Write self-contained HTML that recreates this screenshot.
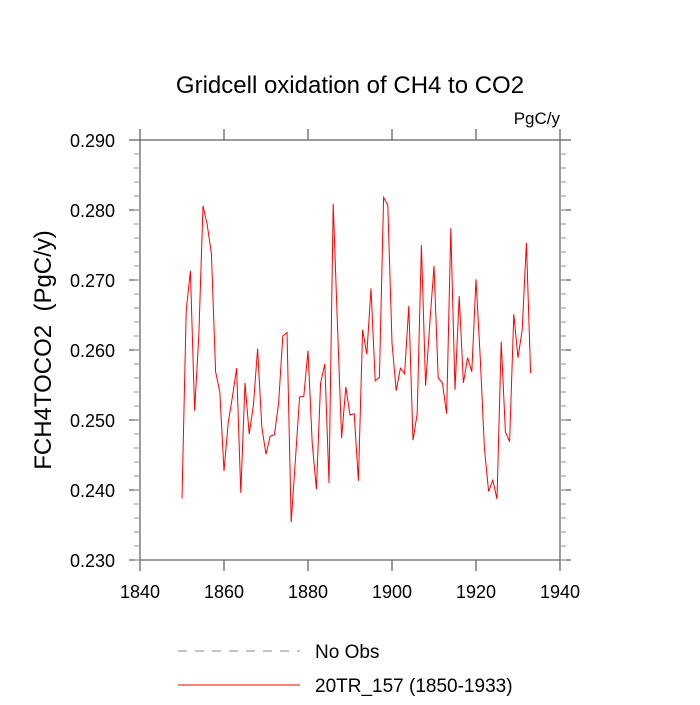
<!DOCTYPE html>
<html><head><meta charset="utf-8"><style>
body{margin:0;background:#fff}
svg text{font-family:"Liberation Sans",sans-serif;fill:#000}
</style></head><body>
<svg id="chart" width="700" height="700" xmlns="http://www.w3.org/2000/svg">
<text x="350" y="93" font-size="24" text-anchor="middle">Gridcell oxidation of CH4 to CO2</text>
<text x="560" y="124" font-size="17" text-anchor="end">PgC/y</text>
<text transform="translate(51,350) rotate(-90)" font-size="24" text-anchor="middle" style="white-space:pre">FCH4TOCO2  (PgC/y)</text>
<g id="axes"></g>
<g id="series"></g>
<line x1="178" y1="651" x2="300" y2="651" stroke="#888" stroke-width="1" stroke-dasharray="9,8"/>
<text x="315" y="658" font-size="19">No Obs</text>
<line x1="178" y1="685" x2="300" y2="685" stroke="red" stroke-width="1"/>
<text x="315" y="692" font-size="19">20TR_157 (1850-1933)</text>
</svg>
<script>
const years=[];for(let y=1850;y<=1933;y++)years.push(y);
const values=[0.2388,0.2657,0.2713,0.2513,0.2620,0.2806,0.2779,0.2738,0.2569,0.2540,
0.2427,0.2496,0.2533,0.2574,0.2396,0.2553,0.2480,0.2521,0.2602,0.2490,
0.2451,0.2477,0.2479,0.2524,0.2620,0.2625,0.2354,0.2443,0.2533,0.2534,
0.2599,0.2467,0.2401,0.2553,0.2580,0.2410,0.2809,0.2638,0.2474,0.2547,
0.2507,0.2509,0.2413,0.2629,0.2594,0.2688,0.2556,0.2561,0.2818,0.2807,
0.2610,0.2542,0.2574,0.2566,0.2663,0.2471,0.2509,0.2750,0.2549,0.2638,
0.2720,0.2560,0.2553,0.2509,0.2774,0.2543,0.2677,0.2553,0.2589,0.2569,
0.2701,0.2590,0.2460,0.2398,0.2414,0.2387,0.2612,0.2483,0.2469,0.2651,
0.2589,0.2629,0.2753,0.2567];
const xTicks=[1840,1860,1880,1900,1920,1940];
const yTicks=[0.230,0.240,0.250,0.260,0.270,0.280,0.290];
const X0=140,X1=560,Y0=140,Y1=560;
const xs=v=>X0+(v-1840)/100*(X1-X0);
const ys=v=>Y1-(v-0.230)/0.06*(Y1-Y0);
const NS="http://www.w3.org/2000/svg";
const ax=document.getElementById('axes');
function ln(x1,y1,x2,y2,name,col){const l=document.createElementNS(NS,'line');
l.setAttribute('x1',x1);l.setAttribute('y1',y1);l.setAttribute('x2',x2);l.setAttribute('y2',y2);
l.setAttribute('stroke',col||'#666');l.setAttribute('stroke-width','1.3');


ax.appendChild(l);}
function tx(x,y,s,anchor,name){const t=document.createElementNS(NS,'text');
t.setAttribute('x',x);t.setAttribute('y',y);t.setAttribute('font-size','18');t.setAttribute('text-anchor',anchor);t.textContent=s;


ax.appendChild(t);}
const fr=document.createElementNS(NS,'rect');
fr.setAttribute('x',X0);fr.setAttribute('y',Y0);fr.setAttribute('width',X1-X0);fr.setAttribute('height',Y1-Y0);
fr.setAttribute('fill','none');fr.setAttribute('stroke','#666');fr.setAttribute('stroke-width','1.3');


ax.appendChild(fr);
xTicks.forEach(v=>{const x=xs(v);ln(x,Y1,x,Y1+11,'x-tick');ln(x,Y0,x,Y0-11,'x-tick-top');tx(x,Y1+38,String(v),'middle','x-tick-label');});
yTicks.forEach(v=>{const y=ys(v);ln(X0-11,y,X0,y,'y-tick');ln(X1,y,X1+11,y,'y-tick-right');tx(X0-25,y+7,v.toFixed(3),'end','y-tick-label');});
for(let v=0.230;v<0.2899;v+=0.002){const y=ys(v);ln(X0-6,y,X0,y,'y-minor-tick','#aaa');ln(X1,y,X1+6,y,'y-minor-tick-right','#aaa');}
const pl=document.createElementNS(NS,'polyline');
pl.setAttribute('points',years.map((y,i)=>xs(y)+','+ys(values[i])).join(' '));
pl.setAttribute('fill','none');pl.setAttribute('stroke','red');pl.setAttribute('stroke-width','1');


document.getElementById('series').appendChild(pl);
</script>
</body></html>
